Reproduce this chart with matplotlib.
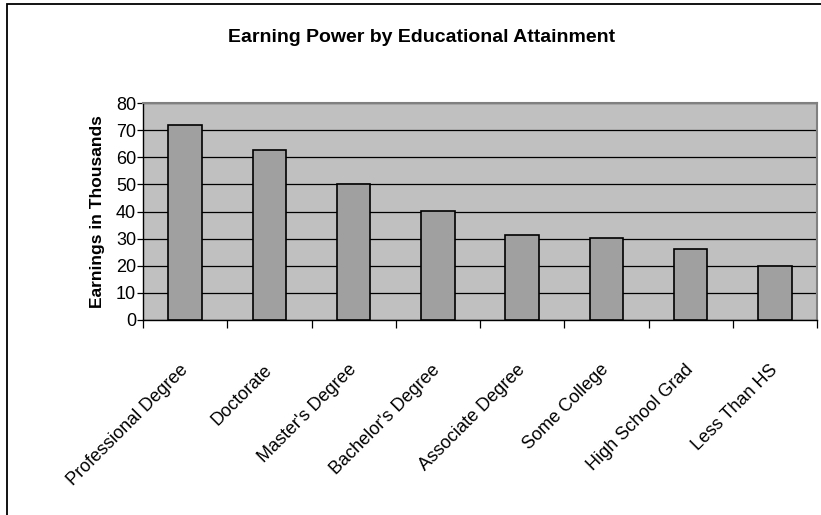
import numpy as np
import matplotlib
matplotlib.use('Agg')
import matplotlib.pyplot as plt
from matplotlib.patches import Rectangle

plt.rcParams['font.family'] = ['Liberation Sans', 'DejaVu Sans']

# Median earnings (thousands of dollars) by education level
categories = ['Professional Degree', 'Doctorate', "Master's Degree", "Bachelor's Degree",
              'Associate Degree', 'Some College', 'High School Grad', 'Less Than HS']
earnings = [72, 62.5, 50.2, 40.2, 31.4, 30.3, 26.2, 19.8]
y_ticks = [0, 10, 20, 30, 40, 50, 60, 70, 80]

W, H = 821, 515
fig = plt.figure(figsize=(W / 100, H / 100), dpi=100)
fig.patch.set_facecolor('white')

# outer chart frame (only left/top edges fall inside the image)
fig.patches.append(Rectangle((7 / W, -0.5), 2.0, 1.5 - 4 / H, transform=fig.transFigure,
                             fill=False, edgecolor='black', linewidth=1.3))

ax = fig.add_axes([143 / W, (H - 320) / H, 674 / W, 217 / H])
ax.set_facecolor('#C0C0C0')

x = np.arange(len(categories)) + 0.5
ax.bar(x, earnings, width=0.4, color='#A0A0A0', edgecolor='black', linewidth=1.2, zorder=3)

ax.set_xlim(0, len(categories))
ax.set_ylim(0, 80)
ax.set_yticks(y_ticks)
ax.set_yticklabels([str(v) for v in y_ticks], fontsize=13)
ax.yaxis.grid(True, color='black', linewidth=0.9, zorder=1)
ax.set_axisbelow(True)

# ticks between categories, labels centred on the bars
ax.set_xticks(np.arange(len(categories) + 1))
ax.set_xticklabels([])
ax.set_xticks(x, minor=True)
ax.set_xticklabels(categories, minor=True, rotation=45, ha='right', va='center',
                   rotation_mode='anchor', fontsize=13)
ax.tick_params(axis='x', which='major', length=6, width=0.9, color='black', direction='out')
ax.tick_params(axis='x', which='minor', length=0, pad=34)
ax.tick_params(axis='y', length=4, width=0.9, pad=1)

for side in ('left', 'bottom'):
    ax.spines[side].set_color('black')
    ax.spines[side].set_linewidth(1.0)
for side in ('top', 'right'):
    ax.spines[side].set_color('#808080')
    ax.spines[side].set_linewidth(1.5)

ax.set_ylabel('Earnings in Thousands', fontsize=12.5, fontweight='bold', labelpad=8)
fig.text(421.5 / W, 1 - 37 / H, 'Earning Power by Educational Attainment',
         ha='center', va='center', fontsize=14, fontweight='bold')

fig.savefig('out.png', dpi=100)
